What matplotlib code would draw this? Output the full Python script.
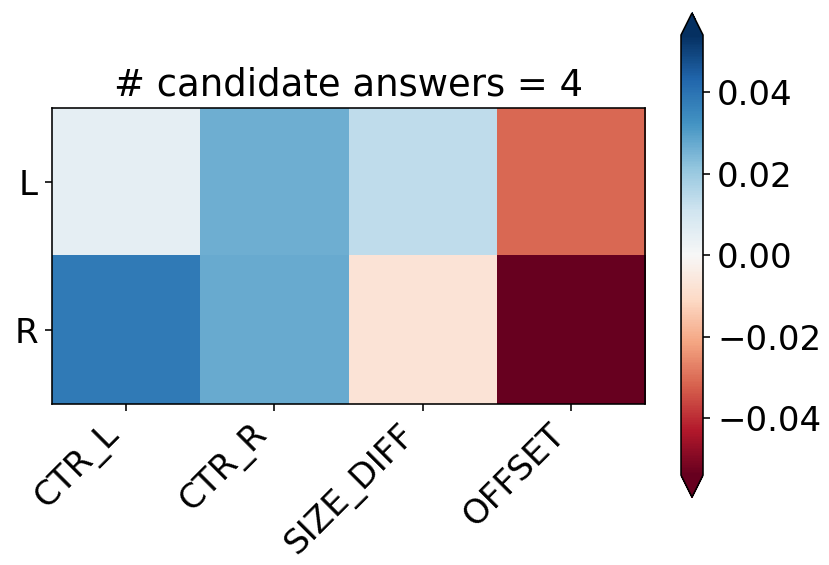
import matplotlib
matplotlib.use('Agg')
import matplotlib.pyplot as plt
from matplotlib.ticker import MultipleLocator
import numpy as np

# feature weights per side
features = ['CTR_L', 'CTR_R', 'SIZE_DIFF', 'OFFSET']
sides = ['L', 'R']
weights_L = [0.005, 0.0265, 0.0135, -0.031]
weights_R = [0.038, 0.027, -0.0075, -0.054]
n_candidates = 4

data = np.array([weights_L, weights_R])
vlim = np.abs(data).max()

plt.rcParams['font.size'] = 17

fig = plt.figure(figsize=(829 / 144, 565 / 144), dpi=144)
ax = fig.add_axes([0.0627, 0.285, 0.7155, 0.524])
cax = fig.add_axes([0.8215, 0.120, 0.0265, 0.857])

im = ax.imshow(data, cmap='RdBu', vmin=-vlim, vmax=vlim, aspect='auto')
ax.set_xticks(range(len(features)))
ax.set_xticklabels(features, rotation=45, ha='right')
ax.set_yticks(range(len(sides)))
ax.set_yticklabels(sides)
ax.set_title(f'# candidate answers = {n_candidates}', fontsize=18.5)

cbar = fig.colorbar(im, cax=cax, extend='both')
cbar.locator = MultipleLocator(0.02)
cbar.update_ticks()

fig.savefig('out.png', dpi=144)
